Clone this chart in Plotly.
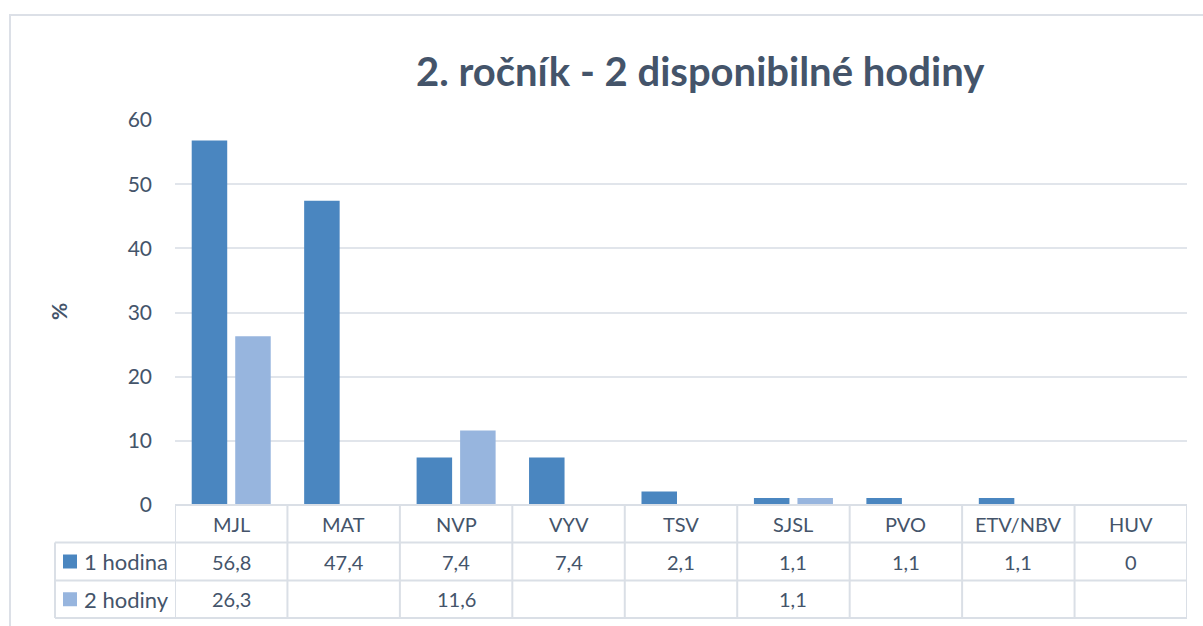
import plotly.graph_objects as go

categories = ["MJL", "MAT", "NVP", "VYV", "TSV", "SJSL", "PVO", "ETV/NBV", "HUV"]
series_names = ["1 hodina", "2 hodiny"]
hodina1 = [56.8, 47.4, 7.4, 7.4, 2.1, 1.1, 1.1, 1.1, 0]
hodiny2 = [26.3, None, 11.6, None, None, 1.1, None, None, None]
y_ticks = [0, 10, 20, 30, 40, 50, 60]
title_text = "2. ročník - 2 disponibilné hodiny"
y_label = "%"

W, H = 1203, 626
ML, MR, MT, MB = 175, 16, 120, 121
PW = W - ML - MR
PH = H - MT - MB

def px_x(p):
    return (p - ML) / PW

def px_y(p):
    return (H - MB - p) / PH

FONT = "Lato"
TXT = "#44546A"
LINE = "#DADFE6"
C1 = "#4A86C0"
C2 = "#97B5DE"

def fmt(v):
    if v is None:
        return ""
    if float(v).is_integer():
        return str(int(v))
    return f"{v:.1f}".replace(".", ",")

fig = go.Figure()
fig.add_trace(go.Bar(x=categories, y=hodina1, name=series_names[0], marker=dict(color=C1, line=dict(width=0))))
fig.add_trace(go.Bar(x=categories, y=hodiny2, name=series_names[1], marker=dict(color=C2, line=dict(width=0))))

shapes = []
annotations = []

# outer chart border
shapes.append(dict(type="rect", xref="paper", yref="paper",
                   x0=px_x(10), x1=px_x(1215), y0=px_y(640), y1=px_y(15),
                   line=dict(color="#DCE0E7", width=2), fillcolor="rgba(0,0,0,0)", layer="below"))

# table geometry
y_top = 0
y_r1 = px_y(542.5)
y_r2 = px_y(580.5)
y_bot = px_y(618)
x_leg = px_x(55)

shapes.append(dict(type="line", xref="paper", yref="paper", x0=0, x1=1, y0=y_top, y1=y_top,
                   line=dict(color=LINE, width=2)))
for yy in (y_r1, y_r2, y_bot):
    shapes.append(dict(type="line", xref="paper", yref="paper", x0=x_leg, x1=1, y0=yy, y1=yy,
                       line=dict(color=LINE, width=2)))
for i in range(len(categories) + 1):
    shapes.append(dict(type="line", xref="x", yref="paper", x0=i - 0.5, x1=i - 0.5, y0=y_top, y1=y_bot,
                       line=dict(color=LINE, width=2)))
shapes.append(dict(type="line", xref="paper", yref="paper", x0=x_leg, x1=x_leg, y0=y_r1, y1=y_bot,
                   line=dict(color=LINE, width=2)))

row_hdr = (y_top + y_r1) / 2
row1 = (y_r1 + y_r2) / 2
row2 = (y_r2 + y_bot) / 2

for i, c in enumerate(categories):
    annotations.append(dict(x=i, y=row_hdr, xref="x", yref="paper", text=c, showarrow=False,
                            font=dict(family=FONT, size=20, color=TXT), xanchor="center", yanchor="middle"))
    annotations.append(dict(x=i, y=row1, xref="x", yref="paper", text=fmt(hodina1[i]), showarrow=False,
                            font=dict(family=FONT, size=20, color=TXT), xanchor="center", yanchor="middle"))
    annotations.append(dict(x=i, y=row2, xref="x", yref="paper", text=fmt(hodiny2[i]), showarrow=False,
                            font=dict(family=FONT, size=20, color=TXT), xanchor="center", yanchor="middle"))

for name, col, yc in ((series_names[0], C1, row1), (series_names[1], C2, row2)):
    half = 7 / PH
    shapes.append(dict(type="rect", xref="paper", yref="paper", x0=px_x(63), x1=px_x(77),
                       y0=yc - half, y1=yc + half, fillcolor=col, line=dict(width=0)))
    annotations.append(dict(x=px_x(82), y=yc, xref="paper", yref="paper", text=name, showarrow=False,
                            font=dict(family=FONT, size=22, color=TXT), xanchor="left", yanchor="middle"))

annotations.append(dict(x=px_x(700), y=px_y(71), xref="paper", yref="paper", text="<b>" + title_text + "</b>",
                        showarrow=False, font=dict(family=FONT, size=40, color=TXT),
                        xanchor="center", yanchor="middle"))
annotations.append(dict(x=px_x(58), y=px_y(312), xref="paper", yref="paper", text="<b>" + y_label + "</b>",
                        showarrow=False, textangle=-90, font=dict(family=FONT, size=21, color=TXT),
                        xanchor="center", yanchor="middle"))

fig.update_layout(
    width=W, height=H,
    margin=dict(l=ML, r=MR, t=MT, b=MB, pad=0),
    paper_bgcolor="white", plot_bgcolor="white",
    barmode="group", bargap=0.226, bargroupgap=0.184,
    showlegend=False,
    shapes=shapes, annotations=annotations,
    font=dict(family=FONT, color=TXT),
    xaxis=dict(type="category", range=[-0.5, len(categories) - 0.5], showticklabels=False,
               showgrid=False, zeroline=False, showline=False, ticks=""),
    yaxis=dict(range=[0, 60], tickvals=y_ticks, ticktext=[str(t) for t in y_ticks],
               showgrid=True, gridcolor="#E1E5EB", gridwidth=2, zeroline=False, showline=False,
               ticks="", ticklabelstandoff=22, tickfont=dict(family=FONT, size=21, color=TXT)),
)

fig.write_html("out.html", config={"displayModeBar": False},
               post_script="document.body.style.margin='0';document.body.style.overflow='hidden';")
